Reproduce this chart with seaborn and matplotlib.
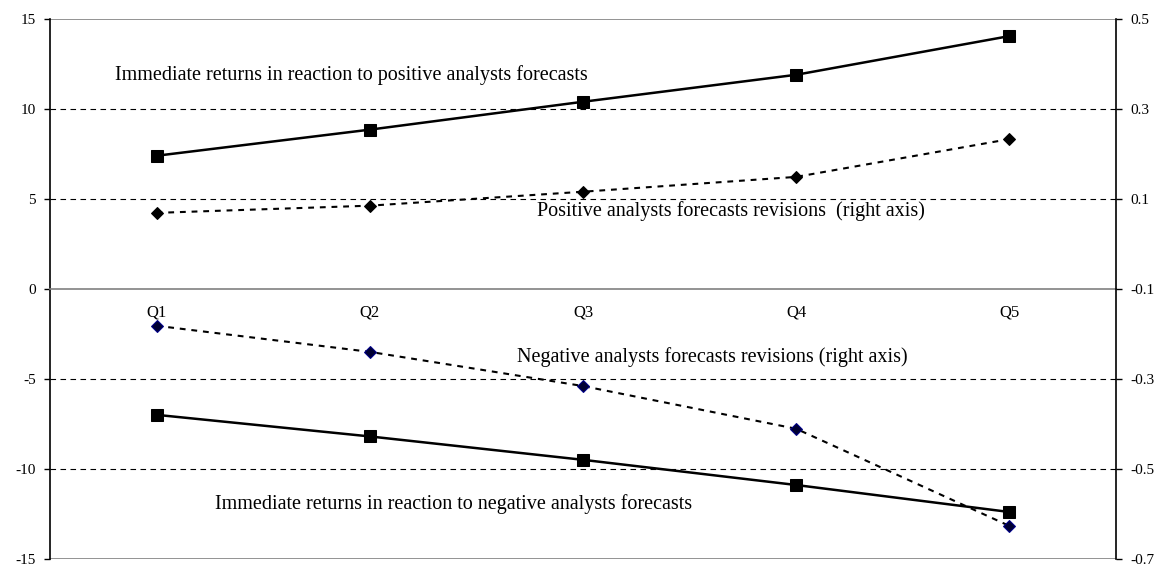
import matplotlib
matplotlib.use("Agg")
import matplotlib.pyplot as plt
import seaborn as sns
import pandas as pd

# Data
quintiles = ["Q1", "Q2", "Q3", "Q4", "Q5"]
pos_returns = [7.4, 8.85, 10.4, 11.9, 14.05]          # left axis
neg_returns = [-7.0, -8.2, -9.5, -10.9, -12.4]        # left axis
pos_revisions = [0.069, 0.085, 0.116, 0.149, 0.233]   # right axis
neg_revisions = [-0.182, -0.240, -0.316, -0.411, -0.627]  # right axis

sns.set_theme(style="white")
plt.rcParams["font.family"] = ["Liberation Serif", "DejaVu Serif"]
plt.rcParams["axes.unicode_minus"] = False
plt.rcParams["text.color"] = "black"
plt.rcParams["xtick.color"] = "black"
plt.rcParams["ytick.color"] = "black"
plt.rcParams["xtick.labelcolor"] = "black"
plt.rcParams["ytick.labelcolor"] = "black"

df = pd.DataFrame({
    "q": quintiles,
    "pos_ret": pos_returns,
    "neg_ret": neg_returns,
    "pos_rev": pos_revisions,
    "neg_rev": neg_revisions,
})
df["x"] = range(len(df))

fig = plt.figure(figsize=(11.63, 5.67), dpi=100)
ax = fig.add_axes([0.043, 0.0145, 0.9166, 0.952])
ax2 = ax.twinx()

# gridlines (left-axis units)
for g in [10, 5, -5, -10]:
    ax.axhline(g, color="black", linewidth=0.8, linestyle=(0, (5, 4)), zorder=0)
ax.axhline(15, color="#808080", linewidth=1.2, zorder=0)
ax.axhline(-15, color="#808080", linewidth=1.2, zorder=0)

# returns on left axis
for col in ["pos_ret", "neg_ret"]:
    sns.lineplot(data=df, x="x", y=col, ax=ax, color="black", linewidth=1.8,
                 marker="s", markersize=8, markeredgecolor="black",
                 markerfacecolor="black", zorder=3)

# revisions on right axis
sns.lineplot(data=df, x="x", y="pos_rev", ax=ax2, color="black", linewidth=1.5,
             linestyle=(0, (2.8, 2.8)), marker="D", markersize=6,
             markerfacecolor="black", markeredgecolor="black", zorder=3)
sns.lineplot(data=df, x="x", y="neg_rev", ax=ax2, color="black", linewidth=1.5,
             linestyle=(0, (2.8, 2.8)), marker="D", markersize=6,
             markerfacecolor="#000033", markeredgecolor="#00008b", zorder=3)

ax.set_xlim(-0.5, len(quintiles) - 0.5)
ax.set_ylim(-15, 15)
ax2.set_ylim(-0.7, 0.5)
ax.set_yticks([-15, -10, -5, 0, 5, 10, 15])
ax2.set_yticks([-0.7, -0.5, -0.3, -0.1, 0.1, 0.3, 0.5])
ax2.set_yticklabels(["-0.7", "-0.5", "-0.3", "-0.1", "0.1", "0.3", "0.5"])

# category axis crossing at zero
ax.spines["bottom"].set_position(("data", 0))
ax.spines["bottom"].set_color("#808080")
ax.spines["bottom"].set_linewidth(1.2)
ax.spines["top"].set_visible(False)
ax2.spines["top"].set_visible(False)
ax2.spines["bottom"].set_visible(False)
ax.spines["left"].set_color("black")
ax.spines["left"].set_linewidth(1.2)
ax2.spines["right"].set_color("black")
ax2.spines["right"].set_linewidth(1.2)
ax2.spines["left"].set_visible(False)
ax.spines["right"].set_visible(False)

ax.set_xticks([i + 0.5 for i in range(len(quintiles) - 1)])
ax.set_xticklabels([])
ax.set_xticks(range(len(quintiles)), minor=True)
ax.set_xticklabels(quintiles, minor=True)
ax.tick_params(axis="x", which="major", direction="out", length=4,
               color="#606060", width=1)
ax.tick_params(axis="x", which="minor", length=0, pad=11, labelsize=12)
ax.tick_params(axis="y", direction="out", length=4, width=1, color="black",
               labelsize=11, pad=6, left=True)
ax2.tick_params(axis="y", direction="out", length=4, width=1, color="black",
                labelsize=11, pad=6, right=True)
ax.set_xlabel("")
ax.set_ylabel("")
ax2.set_ylabel("")
ax.grid(False)
ax2.grid(False)

ax.text(-0.195, 11.9, "Immediate returns in reaction to positive analysts forecasts",
        fontsize=14.5, va="center", ha="left")
ax.text(1.784, 4.3, "Positive analysts forecasts revisions  (right axis)",
        fontsize=14.5, va="center", ha="left")
ax.text(1.69, -3.8, "Negative analysts forecasts revisions (right axis)",
        fontsize=14.5, va="center", ha="left")
ax.text(0.274, -11.95, "Immediate returns in reaction to negative analysts forecasts",
        fontsize=14.5, va="center", ha="left")

fig.savefig("out.png", dpi=100, facecolor="white")
